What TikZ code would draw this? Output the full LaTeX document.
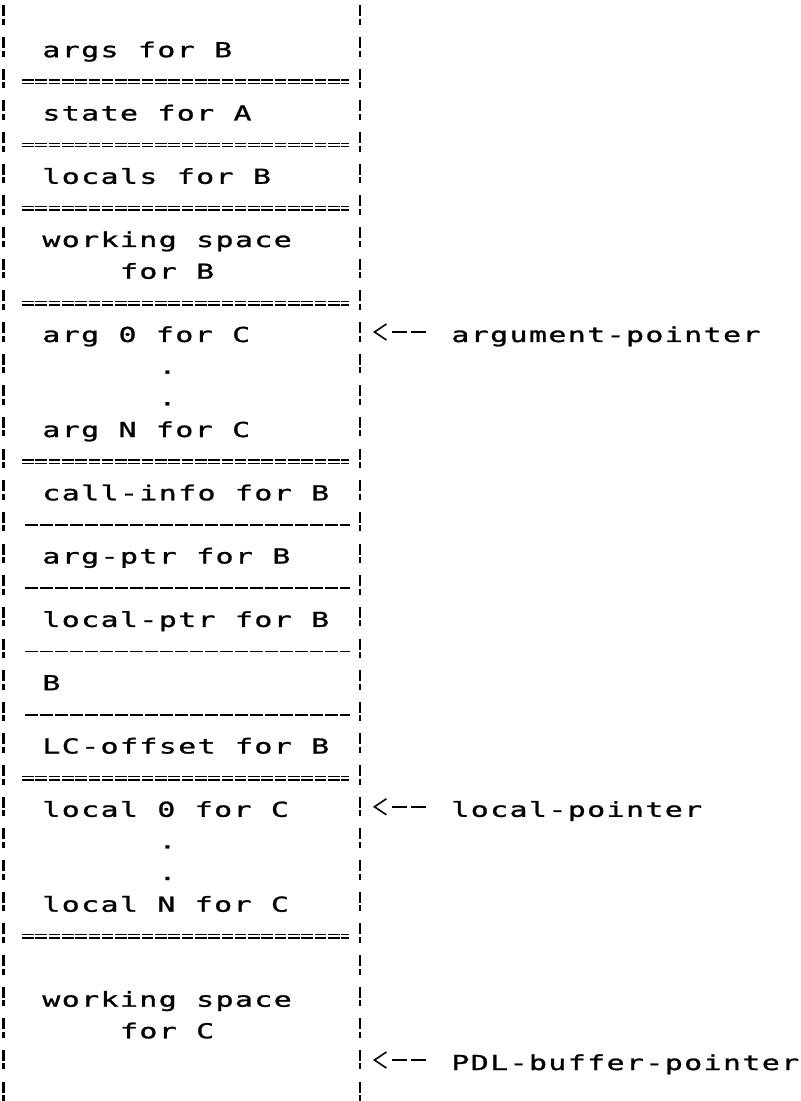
\documentclass[tikz,border=0pt]{standalone}
\usepackage{fontspec}
\newfontfamily\stackfont[FakeStretch=1.45,LetterSpace=6.9,FakeBold=1.2]{DejaVu Sans Mono}
\usetikzlibrary{arrows.meta}

\begin{document}
\begin{tikzpicture}[x=0.5pt, y=-0.5pt,
      every node/.style={font=\stackfont\fontsize{10.3pt}{12pt}\selectfont, inner sep=0pt, anchor=base west},
      wall/.style={line width=1.3pt, dash pattern=on 5.5pt off 1.25pt on 3pt off 6.075pt, dash phase=13.075pt},
      dblsep/.style={double, line width=0.7pt, double distance=1pt, dash pattern=on 5.8pt off 0.85pt},
      sglsep/.style={line width=0.9pt, dash pattern=on 6.25pt off 1.25pt},
      ptr/.style={-{Straight Barb[length=6pt, width=8pt, line width=0.8pt]}, line width=0.9pt,
        dash pattern=on 7.5pt off 2pt on 7.5pt off 30pt, shorten <=12.5pt}]
      \useasboundingbox (0,0) rectangle (800,1101);

      % Walls of the stack
      \draw[wall] (3.5,0) -- (3.5,1101);
      \draw[wall] (360,0) -- (360,1101);

      % Frame of B
      \node (argsB) at (42,57.2) {args for B};
      \node (stateA) at (42,120.5) {state for A};
      \node (localsB) at (42,183.8) {locals for B};
      \node (wsB) at (42,247) {working space};
      \node (wsBfor) at (119.6,278.7) {for B};

      % Arguments for C
      \node (arg0C) at (42,342) {arg 0 for C};
      \node (argdot1) at (158,373.7) {.};
      \node (argdot2) at (158,405.3) {.};
      \node (argNC) at (42,437) {arg N for C};

      % Frame header
      \node (callinfo) at (42,500.3) {call-info for B};
      \node (argptrB) at (42,563.5) {arg-ptr for B};
      \node (localptrB) at (42,626.9) {local-ptr for B};
      \node (funB) at (42,690.2) {B};
      \node (lcoffset) at (42,753.5) {LC-offset for B};

      % Locals and working space for C
      \node (loc0C) at (42,816.8) {local 0 for C};
      \node (locdot1) at (158,848.4) {.};
      \node (locdot2) at (158,880) {.};
      \node (locNC) at (42,911.7) {local N for C};
      \node (wsC) at (42,1006.7) {working space};
      \node (wsCfor) at (119.6,1038.3) {for C};

      % Separators
      \foreach \y in {81.8, 145.1, 208.4, 303.4, 461.6, 778.1, 936.4} {
        \draw[dblsep] (22,\y) -- (349,\y);
      }
      \foreach \y in {524.9, 588.2, 651.5, 714.8} {
        \draw[sglsep] (25,\y) -- (350,\y);
      }

      % Pointers
      \node (argptr) at (451,342) {argument-pointer};
      \node (locptr) at (451,816.8) {local-pointer};
      \node (pdlptr) at (451,1070) {PDL-buffer-pointer};
      \coordinate (argtip) at (373,332);
      \coordinate (loctip) at (373,806.8);
      \coordinate (pdltip) at (373,1060);
      \draw[ptr] (argptr.west |- argtip) -- (argtip);
      \draw[ptr] (locptr.west |- loctip) -- (loctip);
      \draw[ptr] (pdlptr.west |- pdltip) -- (pdltip);
    \end{tikzpicture}
\end{document}
